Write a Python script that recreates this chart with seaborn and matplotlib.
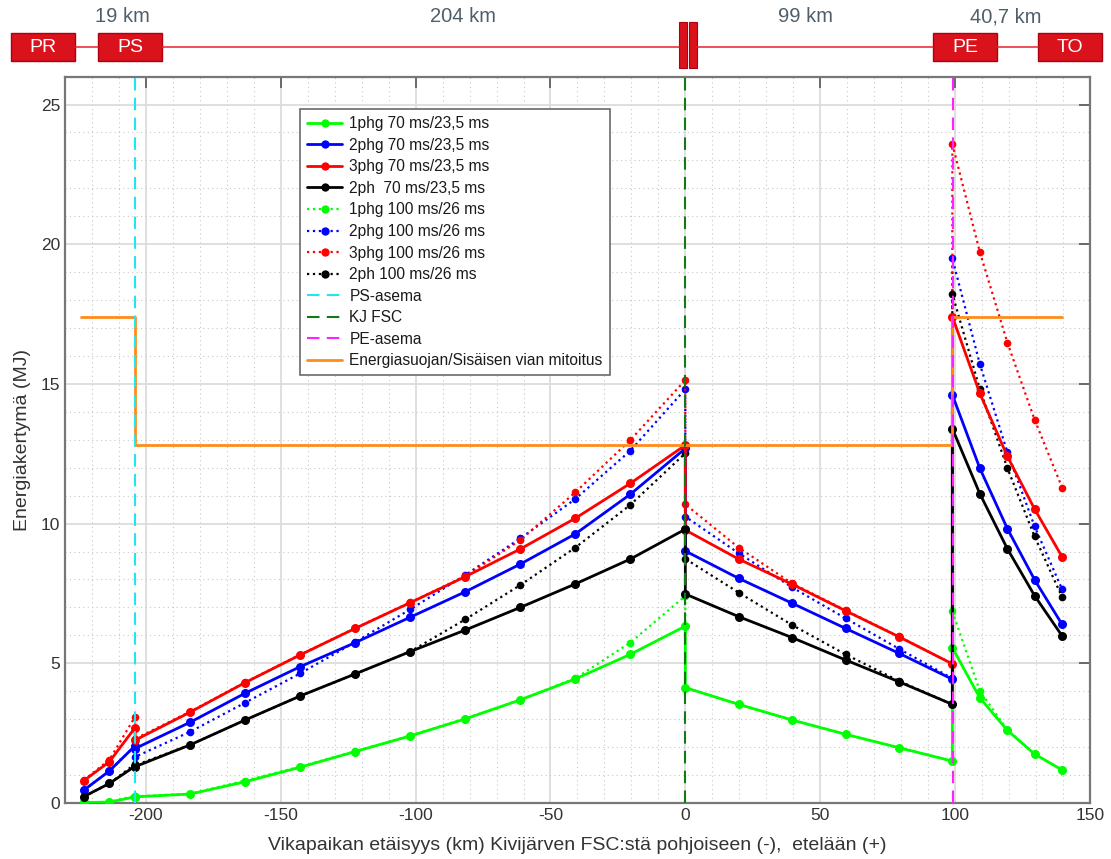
import matplotlib
matplotlib.use("Agg")
import matplotlib.pyplot as plt
from matplotlib.patches import Rectangle
from matplotlib.lines import Line2D
import seaborn as sns
import pandas as pd

# Fault location along the line (km): PR-PS, PS-FSC, FSC-PE, PE-TO sections
distance_km = [-223, -213.5, -204,
               -204, -183.6, -163.2, -142.8, -122.4, -102, -81.6, -61.2, -40.8, -20.4, 0,
               0, 19.8, 39.6, 59.4, 79.2, 99,
               99, 109.2, 119.4, 129.5, 139.7]

# Energy accumulation (MJ), 70 ms / 23,5 ms clearing
e_1phg_70 = [0.02, 0.03, 0.22,
             0.22, 0.32, 0.76, 1.28, 1.84, 2.40, 3.01, 3.69, 4.44, 5.32, 6.33,
             4.13, 3.53, 2.97, 2.46, 1.98, 1.50,
             5.56, 3.76, 2.60, 1.75, 1.18]
e_2phg_70 = [0.46, 1.15, 2.05,
             1.95, 2.89, 3.93, 4.88, 5.74, 6.65, 7.56, 8.55, 9.63, 11.05, 12.69,
             9.02, 8.04, 7.15, 6.25, 5.36, 4.43,
             14.61, 11.98, 9.82, 7.99, 6.39]
e_3phg_70 = [0.80, 1.48, 2.70,
             2.25, 3.25, 4.31, 5.30, 6.25, 7.17, 8.10, 9.09, 10.19, 11.44, 12.81,
             9.77, 8.73, 7.83, 6.88, 5.95, 4.98,
             17.41, 14.66, 12.41, 10.52, 8.81]
e_2ph_70 = [0.23, 0.70, 1.32,
            1.30, 2.08, 2.97, 3.83, 4.62, 5.42, 6.19, 7.00, 7.84, 8.73, 9.80,
            7.48, 6.67, 5.92, 5.12, 4.34, 3.53,
            13.40, 11.07, 9.10, 7.42, 5.98]

# Energy accumulation (MJ), 100 ms / 26 ms clearing
e_1phg_100 = [0.02, 0.04, 0.26,
              0.24, 0.33, 0.80, 1.30, 1.85, 2.41, 3.02, 3.70, 4.46, 5.74, 7.41,
              4.13, 3.53, 2.97, 2.46, 1.98, 1.50,
              6.86, 4.01, 2.62, 1.76, 1.18]
e_2phg_100 = [0.46, 1.15, 2.05,
              1.65, 2.55, 3.59, 4.64, 5.76, 6.93, 8.16, 9.47, 10.88, 12.61, 14.81,
              10.25, 8.94, 7.72, 6.61, 5.52, 4.46,
              19.49, 15.71, 12.56, 9.90, 7.65]
e_3phg_100 = [0.82, 1.55, 3.09,
              2.30, 3.27, 4.32, 5.31, 6.26, 7.18, 8.12, 9.41, 11.12, 12.99, 15.14,
              10.69, 9.14, 7.86, 6.90, 5.96, 4.98,
              23.59, 19.72, 16.48, 13.72, 11.29]
e_2ph_100 = [0.23, 0.70, 1.40,
             1.35, 2.08, 2.97, 3.83, 4.62, 5.42, 6.57, 7.80, 9.14, 10.67, 12.52,
             8.74, 7.53, 6.37, 5.32, 4.37, 3.53,
             18.22, 14.81, 11.99, 9.54, 7.37]

series_labels = ["1phg 70 ms/23,5 ms", "2phg 70 ms/23,5 ms", "3phg 70 ms/23,5 ms",
                 "2ph  70 ms/23,5 ms", "1phg 100 ms/26 ms", "2phg 100 ms/26 ms",
                 "3phg 100 ms/26 ms", "2ph 100 ms/26 ms"]

# Station positions (km)
station_labels = ["PS-asema", "KJ FSC", "PE-asema"]
station_km = [-204, 0, 99.3]

# Arrester energy rating step line
rating_label = "Energiasuojan/Sisäisen vian mitoitus"
rating_km = [-224, -204, -204, 99, 99, 139.7]
rating_mj = [17.4, 17.4, 12.8, 12.8, 17.4, 17.4]

# Line schematic
section_lengths = ["19 km", "204 km", "99 km", "40,7 km"]
station_codes = ["PR", "PS", "PE", "TO"]

sns.set_theme(style="white")
plt.rcParams["font.family"] = ["Liberation Sans", "DejaVu Sans"]
plt.rcParams["axes.unicode_minus"] = False

fig = plt.figure(figsize=(11.11, 8.59), dpi=100)
ax = fig.add_axes([0.0585, 0.0652, 0.9225, 0.8456])

series = [e_1phg_70, e_2phg_70, e_3phg_70, e_2ph_70,
          e_1phg_100, e_2phg_100, e_3phg_100, e_2ph_100]
colors = ["#00FF00", "#0000FF", "#FF0000", "#000000"] * 2
styles = ["-"] * 4 + [":"] * 4

frames = []
for lab, vals in zip(series_labels, series):
    frames.append(pd.DataFrame({"km": distance_km, "MJ": vals, "sarja": lab}))
df = pd.concat(frames, ignore_index=True)

for i, lab in enumerate(series_labels):
    sub = df[df["sarja"] == lab]
    solid = styles[i] == "-"
    sns.lineplot(data=sub, x="km", y="MJ", ax=ax, estimator=None, sort=False,
                 color=colors[i], linestyle=styles[i],
                 linewidth=2.0 if solid else 1.6,
                 marker="o", markersize=6.5 if solid else 5.5,
                 markeredgewidth=0, label=lab, zorder=3 if solid else 2.5,
                 legend=False)

vcolors = ["#22E5F0", "#127A12", "#FF22FF"]
for lab, xk, c in zip(station_labels, station_km, vcolors):
    ax.axvline(xk, color=c, linestyle=(0, (6, 3.5)), linewidth=1.5, zorder=4, label=lab)

ax.plot(rating_km, rating_mj, color="#FF8C1A", linewidth=2.0, zorder=3.5, label=rating_label)

ax.set_xlim(-230, 150)
ax.set_ylim(0, 26)
ax.set_xticks([-200, -150, -100, -50, 0, 50, 100, 150])
ax.set_yticks([0, 5, 10, 15, 20, 25])
ax.set_xticks(range(-230, 151, 10), minor=True)
ax.set_yticks(range(0, 27, 1), minor=True)
ax.grid(which="major", color="#DCDCDC", linewidth=1.3, linestyle="-")
ax.grid(which="minor", color="#C8C8C8", linewidth=0.8, linestyle=(0, (1, 3)))
ax.set_axisbelow(True)
ax.tick_params(which="major", direction="in", length=8, width=1.2, colors="#555555",
               labelcolor="#333333", labelsize=12.5, top=True, right=True)
ax.tick_params(which="minor", length=0)
for sp in ax.spines.values():
    sp.set_color("#777777")
    sp.set_linewidth(1.6)
ax.set_xlabel("Vikapaikan etäisyys (km) Kivijärven FSC:stä pohjoiseen (-),  etelään (+)",
              fontsize=14, color="#333333", labelpad=10)
ax.set_ylabel("Energiakertymä (MJ)", fontsize=14, color="#333333", labelpad=7)

# Legend
handles = []
for i, lab in enumerate(series_labels):
    handles.append(Line2D([0], [0], color=colors[i], linestyle=styles[i],
                          linewidth=2.0 if styles[i] == "-" else 1.6,
                          marker="o", markersize=6, markeredgewidth=0, label=lab))
for lab, c in zip(station_labels, vcolors):
    handles.append(Line2D([0], [0], color=c, linestyle=(0, (6, 3.5)), linewidth=1.5, label=lab))
handles.append(Line2D([0], [0], color="#FF8C1A", linewidth=2.0, label=rating_label))
leg = ax.legend(handles=handles, loc="upper left", bbox_to_anchor=(0.229, 0.955),
                fontsize=11.2, frameon=True, fancybox=False, framealpha=1,
                edgecolor="#6A6A6A", handlelength=2.3, handletextpad=0.45,
                labelspacing=0.42, borderpad=0.45, numpoints=1, borderaxespad=0)
leg.get_frame().set_linewidth(1.2)
for t in leg.get_texts():
    t.set_color("#1A1A1A")

# Line schematic above the plot, in pixel units
top = fig.add_axes([0, 1 - 77 / 859, 1, 77 / 859])
top.set_xlim(0, 1111)
top.set_ylim(77, 0)
top.axis("off")
box_x = [11, 98, 933, 1038]
box_w = 64
for code, bx in zip(station_codes, box_x):
    top.add_patch(Rectangle((bx, 33), box_w, 28, facecolor="#D9121C",
                            edgecolor="#B00010", linewidth=1))
    top.text(bx + box_w / 2, 47.5, code, color="white", fontsize=14,
             ha="center", va="center")
for x0, x1 in [(75, 98), (162, 679), (697, 933), (997, 1038)]:
    top.plot([x0, x1], [47, 47], color="#E8202A", linewidth=1.1)
for bx in [679, 689]:
    top.add_patch(Rectangle((bx, 22), 8, 46, facecolor="#D9121C",
                            edgecolor="#B00010", linewidth=0.8))
for txt, tx in zip(section_lengths, [122, 463, 805, 1006]):
    top.text(tx, 17, txt, color="#4F5F6A", fontsize=14.5, ha="center", va="center")

fig.savefig("out.png", dpi=100)
